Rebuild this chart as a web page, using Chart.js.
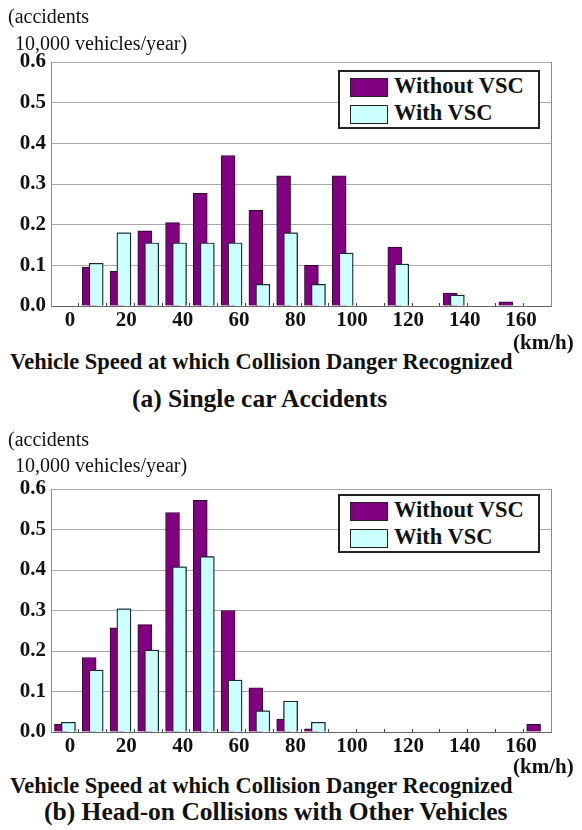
<!DOCTYPE html>
<html>
<head>
<meta charset="utf-8">
<script src="https://cdn.jsdelivr.net/npm/chart.js@4.4.1/dist/chart.umd.min.js"></script>
<style>
  body { margin: 0; background: #fff; }
  #page { position: relative; width: 582px; height: 830px; overflow: hidden; font-family: "Liberation Serif", "Times New Roman", serif; color: #111; }
  canvas { position: absolute; left: 0; }
  .t { position: absolute; white-space: nowrap; line-height: 1; }
  .unit { font-size: 20px; }
  .b { font-weight: bold; }
  .legend { position: absolute; left: 338px; width: 198px; height: 55px; border: 2px solid #222; background: #fff; }
  .row { position: absolute; left: 10px; height: 20px; }
  .sw { position: absolute; left: 0; top: 0; width: 36px; height: 17px; border: 1px solid #222; }
  .lt { position: absolute; left: 44px; top: -3px; font-size: 22.5px; font-weight: bold; white-space: nowrap; line-height: 1; }
</style>
</head>
<body>
<div id="page">
  <canvas id="chartA" width="582" height="340" style="top:0"></canvas>
  <canvas id="chartB" width="582" height="340" style="top:430px"></canvas>

  <div class="t unit" style="left:8px; top:6px">(accidents</div>
  <div class="t unit" style="left:15px; top:33px">10,000 vehicles/year)</div>
  <div class="t b" style="left:513px; top:332px; font-size:21px">(km/h)</div>
  <div class="t b" style="left:10px; top:351px; font-size:22.5px">Vehicle Speed at which Collision Danger Recognized</div>
  <div class="t b" style="left:132px; top:386px; font-size:25.5px">(a) Single car Accidents</div>

  <div class="t unit" style="left:8px; top:429px">(accidents</div>
  <div class="t unit" style="left:15px; top:455px">10,000 vehicles/year)</div>
  <div class="t b" style="left:513px; top:756px; font-size:21px">(km/h)</div>
  <div class="t b" style="left:10px; top:775px; font-size:22.5px">Vehicle Speed at which Collision Danger Recognized</div>
  <div class="t b" style="left:44px; top:799px; font-size:25.5px">(b) Head-on Collisions with Other Vehicles</div>

  <div class="legend" style="top:70px">
    <div class="row" style="top:6px"><div class="sw" style="background:#800080"></div><div class="lt">Without VSC</div></div>
    <div class="row" style="top:33px"><div class="sw" style="background:#ccffff"></div><div class="lt">With VSC</div></div>
  </div>
  <div class="legend" style="top:494px">
    <div class="row" style="top:6px"><div class="sw" style="background:#800080"></div><div class="lt">Without VSC</div></div>
    <div class="row" style="top:33px"><div class="sw" style="background:#ccffff"></div><div class="lt">With VSC</div></div>
  </div>
</div>

<script>
// 10 km/h speed bins
const speedBins = ["0", "10", "20", "30", "40", "50", "60", "70", "80", "90",
  "100", "110", "120", "130", "140", "150", "160", "170"];
const speedTicks = [0, 20, 40, 60, 80, 100, 120, 140, 160];
const seriesNames = ["Without VSC", "With VSC"];

// (a) single car accidents
const singleWithout = [null, 0.095, 0.085, 0.185, 0.205, 0.277, 0.37, 0.235, 0.32, 0.10,
  0.32, null, 0.145, null, 0.032, null, 0.01, null];
const singleWith = [null, 0.105, 0.18, 0.155, 0.155, 0.155, 0.155, 0.053, 0.18, 0.053,
  0.13, null, 0.103, null, 0.027, null, null, null];

// (b) head-on collisions
const headonWithout = [0.019, 0.184, 0.257, 0.265, 0.542, 0.572, 0.30, 0.109, 0.032, 0.008,
  null, null, null, null, null, null, null, 0.019];
const headonWith = [0.024, 0.153, 0.304, 0.202, 0.408, 0.433, 0.128, 0.052, 0.076, 0.024,
  null, null, null, null, null, null, null, null];

const purple = "#800080";
const cyan = "#ccffff";
const tickFont = { family: "Liberation Serif", size: 21, weight: "bold" };

// With VSC bars overlap the Without VSC ones
const withOnTop = {
  id: "withOnTop",
  afterDatasetsDraw(chart) {
    const a = chart.chartArea;
    const ctx = chart.ctx;
    ctx.save();
    ctx.beginPath();
    ctx.rect(a.left, a.top, a.width, a.height);
    ctx.clip();
    chart.getDatasetMeta(1).controller.draw();
    ctx.restore();
  }
};

function makeChart(id, without, withV, padTop, axisH) {
  new Chart(id, {
    type: "bar",
    data: {
      labels: speedBins,
      datasets: [
        { label: seriesNames[0], data: without, backgroundColor: purple, borderColor: "#2a0a2a", borderWidth: 1 },
        { label: seriesNames[1], data: withV, backgroundColor: cyan, borderColor: "#1a2a2a", borderWidth: 1.2 }
      ]
    },
    options: {
      responsive: false,
      animation: false,
      layout: { padding: { top: padTop, right: 31, left: 0, bottom: 0 } },
      datasets: { bar: { categoryPercentage: 0.5, barPercentage: 2 } },
      plugins: { legend: { display: false }, tooltip: { enabled: false } },
      scales: {
        x: {
          weight: 0,
          offset: true,
          ticks: { display: false },
          grid: { offset: true, drawOnChartArea: false, drawTicks: true, tickLength: -3, color: "#444" },
          border: { display: true, color: "#666" },
          afterFit: s => { s.height = 0; }
        },
        x2: {
          type: "linear",
          position: "bottom",
          weight: 1,
          offset: false,
          min: -6.7,
          max: 170.6,
          grid: { display: false, drawTicks: false, offset: false },
          border: { display: false },
          ticks: { font: tickFont, color: "#111", padding: 2, maxRotation: 0 },
          afterBuildTicks: s => { s.ticks = speedTicks.map(v => ({ value: v })); },
          afterFit: s => { s.height = axisH; }
        },
        y: {
          min: 0,
          max: 0.6,
          ticks: { stepSize: 0.1, font: tickFont, color: "#111", padding: 5, callback: v => v.toFixed(1) },
          grid: { color: "#a8a8a8", drawTicks: false },
          border: { display: true, color: "#8a8a8a" },
          afterFit: s => { s.width = 51; }
        },
        yR: {
          position: "right",
          ticks: { display: false },
          grid: { display: false, drawTicks: false },
          border: { display: true, color: "#8a8a8a" },
          afterFit: s => { s.width = 0; }
        }
      }
    },
    plugins: [withOnTop]
  });
}

makeChart("chartA", singleWithout, singleWith, 62, 34);
makeChart("chartB", headonWithout, headonWith, 59, 38);
</script>
</body>
</html>
